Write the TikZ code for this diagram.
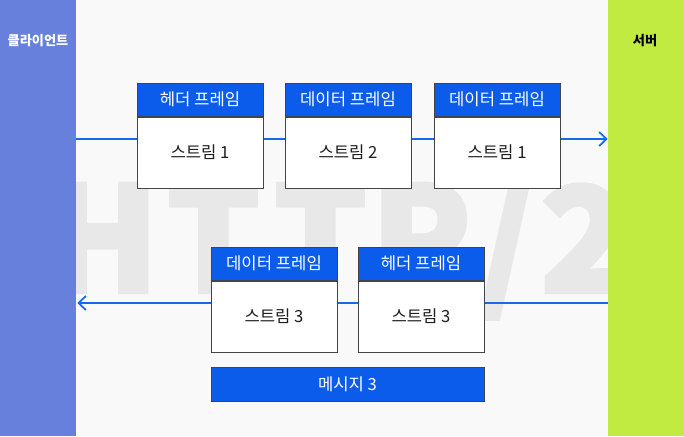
\documentclass[tikz,border=0pt]{standalone}
\usepackage{fontspec}
\setmainfont{Noto Sans CJK KR}
\newfontfamily\wmfont[FakeBold=3]{Noto Sans CJK KR}
\usetikzlibrary{arrows.meta}
\definecolor{bg}{HTML}{F9F9F9}
\definecolor{wm}{HTML}{E8E8E8}
\definecolor{clientc}{HTML}{6680DC}
\definecolor{serverc}{HTML}{C2EB42}
\definecolor{hblue}{HTML}{0B5CEB}
\definecolor{ablue}{HTML}{1569F0}
\definecolor{edge}{HTML}{444444}
\definecolor{txt}{HTML}{1E1E1E}
\begin{document}
\begin{tikzpicture}[x=0.75pt,y=-0.75pt,
  hdr/.style={draw=edge, fill=hblue, line width=0.75pt, inner sep=0pt,
    minimum width=94.5pt, minimum height=24.75pt, text=white, font=\fontsize{12.5}{14}\selectfont},
  bodybox/.style={draw=edge, fill=white, line width=0.75pt, inner sep=0pt,
    minimum width=94.5pt, minimum height=53.25pt, text=txt, font=\fontsize{12.5}{14}\selectfont},
  bar/.style={inner sep=0pt, minimum width=57pt, minimum height=327pt},
  flow/.style={draw=ablue, line width=1.5pt, -{Straight Barb[length=5.5pt,width=10.5pt,line width=1.3pt]}},
  barlbl/.style={font=\fontsize{9.9}{12}\selectfont\bfseries},
  wmletter/.style={anchor=base, inner sep=0pt, text=wm, font=\fontsize{109}{112}\selectfont\wmfont\bfseries}
]
\useasboundingbox (0,0) rectangle (684,436);
\fill[bg] (0,0) rectangle (684,436);
% watermark HTTP/2
\node[wmletter] (wm1) at (102.5,292) {H};
\node[wmletter] (wm2) at (213.5,292) {T};
\node[wmletter] (wm3) at (320.5,292) {T};
\node[wmletter] (wm4) at (421,292) {P};
\node[wmletter] (wm5) at (507,292) {/};
\node[wmletter] (wm6) at (585,292) {2};
% side bars
\node[bar, fill=clientc] (client) at (38,218) {};
\node[bar, fill=serverc] (server) at (646,218) {};
\node[barlbl, text=white] (clientlbl) at (38,41) {클라이언트};
\node[barlbl, text=black] (serverlbl) at (645,41) {서버};
% connector end points on the bars
\coordinate (c1) at (client.east |- 0,139);
\coordinate (s1) at (server.west |- 0,139);
\coordinate (c2) at (client.east |- 0,303);
\coordinate (s2) at (server.west |- 0,303);
\draw[flow] (c1) -- (s1);
\draw[flow] (s2) -- ([xshift=0.75pt]c2);
% top row
\node[hdr] (h1) at (200,99.5) {헤더 프레임};
\node[bodybox, anchor=north] (b1) at (h1.south) {스트림 1};
\node[hdr] (h2) at (348,99.5) {데이터 프레임};
\node[bodybox, anchor=north] (b2) at (h2.south) {스트림 2};
\node[hdr] (h3) at (497,99.5) {데이터 프레임};
\node[bodybox, anchor=north] (b3) at (h3.south) {스트림 1};
% bottom row
\node[hdr] (h4) at (274,263.5) {데이터 프레임};
\node[bodybox, anchor=north] (b4) at (h4.south) {스트림 3};
\node[hdr] (h5) at (421,263.5) {헤더 프레임};
\node[bodybox, anchor=north] (b5) at (h5.south) {스트림 3};
% message bar
\node[hdr, minimum width=204.75pt, minimum height=25.5pt] (msg) at (347.5,384) {메시지 3};
\end{tikzpicture}
\end{document}
